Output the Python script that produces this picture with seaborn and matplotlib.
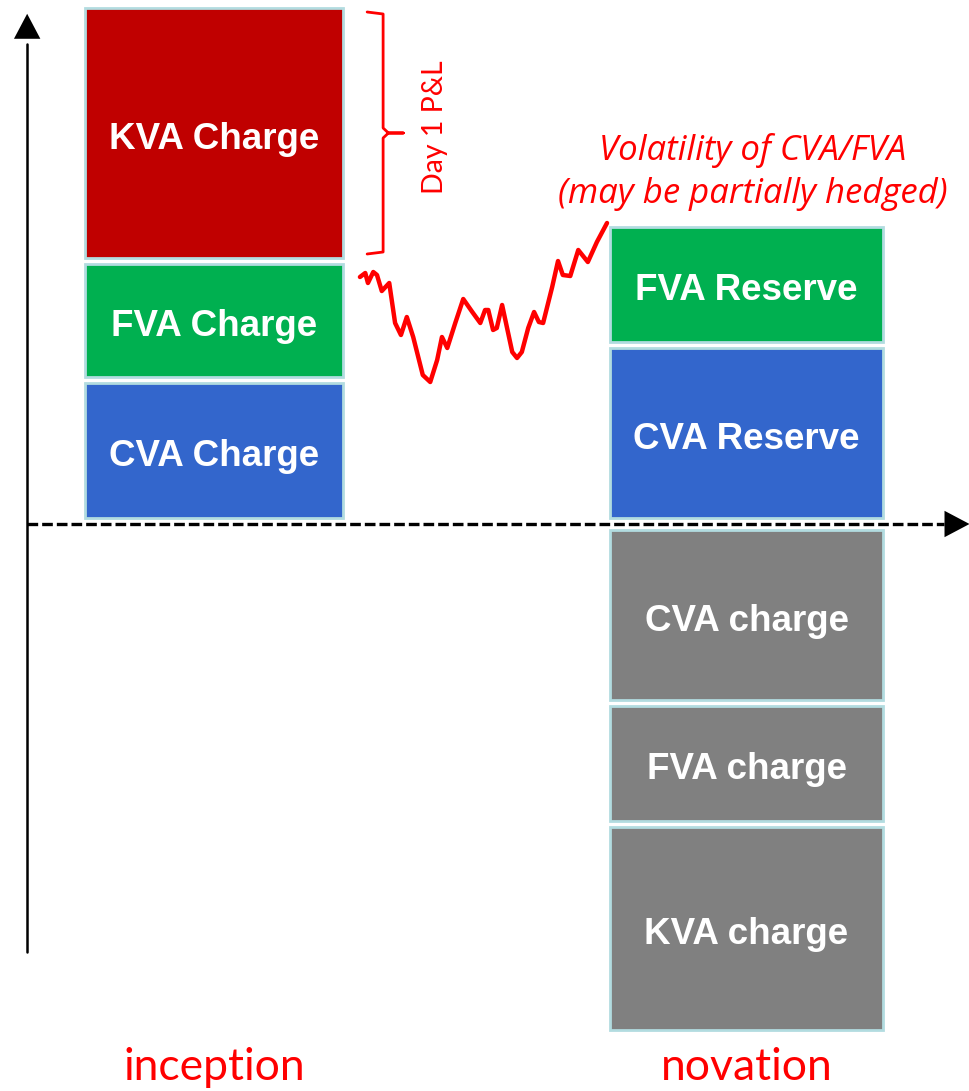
import numpy as np
import pandas as pd
import matplotlib
matplotlib.use("Agg")
import matplotlib.pyplot as plt
import seaborn as sns

# columns of the diagram
columns = ["inception", "novation"]

# inception: charges stacked upwards
inception_labels = ["CVA Charge", "FVA Charge", "KVA Charge"]
inception_values = [13.5, 11.3, 25.0]

# novation: reserves above zero, new charges below
reserve_labels = ["CVA Reserve", "FVA Reserve"]
reserve_values = [17.0, 11.5]
novation_labels = ["CVA charge", "FVA charge", "KVA charge"]
novation_values = [-17.0, -11.5, -20.3]

# CVA/FVA path between inception (0) and novation (1)
path_t = [0.274, 0.284, 0.289, 0.299, 0.306, 0.315, 0.329, 0.340, 0.351, 0.362,
          0.374, 0.392, 0.406, 0.419, 0.428, 0.438, 0.453, 0.468, 0.485, 0.500,
          0.509, 0.515, 0.524, 0.531, 0.541, 0.560, 0.569, 0.578, 0.590, 0.601,
          0.610, 0.618, 0.635, 0.646, 0.655, 0.669, 0.684, 0.702, 0.719, 0.738]
path_v = [24.7, 25.1, 24.1, 25.2, 24.9, 23.3, 24.1, 20.1, 18.9, 20.7,
          18.7, 14.9, 14.2, 16.4, 18.7, 17.6, 20.1, 22.5, 21.2, 20.1,
          21.4, 21.4, 19.4, 19.6, 21.9, 17.2, 16.6, 17.2, 19.6, 21.2,
          20.2, 20.1, 23.7, 26.3, 24.9, 24.8, 27.4, 26.2, 28.2, 30.1]

colors = {"CVA": "#3366CC", "FVA": "#00B050", "KVA": "#C00000"}
grey = "#808080"
edge = "#B2DCE0"
red = "#FF0000"
gap = 0.6
widths = {"inception": 0.485, "novation": 0.513}

sns.set_style("white")
plt.rcParams["font.family"] = ["Liberation Sans", "DejaVu Sans"]

fig = plt.figure(figsize=(9.70, 10.91), dpi=100)
ax = fig.add_axes([0, 0, 1, 1])


def stack(ax, col, labels, values, color_of):
    """Draw a stack of labelled blocks in one column, with gaps between them"""
    pos = columns.index(col)
    sign = 1 if values[0] > 0 else -1
    base = sign * gap
    extents = {}
    for lab, val in zip(labels, values):
        df = pd.DataFrame({"col": [col], "val": [val]})
        sns.barplot(data=df, x="col", y="val", order=columns, color=color_of(lab),
                    saturation=1, width=widths[col], bottom=base, edgecolor=edge,
                    linewidth=2, errorbar=None, ax=ax)
        ax.text(pos, base + val / 2 - 0.25, lab, color="white", fontsize=26.5,
                fontweight="bold", ha="center", va="center_baseline")
        extents[lab] = (base, base + val)
        base = base + val + sign * gap
    return extents


inc = stack(ax, "inception", inception_labels, inception_values,
            lambda l: colors[l.split()[0]])
stack(ax, "novation", reserve_labels, reserve_values,
      lambda l: colors[l.split()[0]])
stack(ax, "novation", novation_labels, novation_values, lambda l: grey)

# volatility path
sns.lineplot(x=path_t, y=path_v, sort=False, estimator=None, color=red,
             linewidth=3.2, ax=ax)

# Day 1 P&L brace over the KVA block
kb, kt = inc["KVA Charge"]
x0 = widths["inception"] / 2
xe, xs, xt = x0 + 0.045, x0 + 0.075, x0 + 0.113
mid = (kb + kt) / 2
ax.plot([xe, xs, xs, xs + 0.01, xt, xs + 0.01, xs, xs, xe],
        [kt - 0.4, kt - 0.6, mid + 0.5, mid, mid, mid, mid - 0.5, kb + 0.6, kb + 0.4],
        color=red, linewidth=2, solid_joinstyle="round")
ax.text(xt + 0.06, mid + 0.6, "Day 1 P&L", color=red, fontsize=20.5, rotation=90,
        ha="center", va="center", family=["Lato", "DejaVu Sans"])

ax.text(1.012, 37.3, "Volatility of CVA/FVA", color=red, fontsize=25,
        style="italic", ha="center", va="center", family=["Open Sans", "DejaVu Sans"])
ax.text(1.012, 33.0, "(may be partially hedged)", color=red, fontsize=25,
        style="italic", ha="center", va="center", family=["Open Sans", "DejaVu Sans"])

# column labels
for i, c in enumerate(columns):
    ax.text(i, -54.4, c, color=red, fontsize=32, ha="center", va="center",
            family=["Lato", "DejaVu Sans"])

# axes with arrows
ax.set_xlim(-0.402, 1.4197)
ax.set_ylim(-56.7, 52.4)
xa = -0.351
head = "-|>,head_width=0.95,head_length=1.8"
ax.plot([xa, xa], [-42.8, 48.0], color="black", linewidth=1.8)
ax.annotate("", xy=(xa, 51.3), xytext=(xa, 46.0), annotation_clip=False,
            arrowprops=dict(arrowstyle=head, color="black", lw=0))
ax.plot([xa, 1.37], [0, 0], color="black", linewidth=2.4, linestyle=(0, (3.2, 1.2)))
ax.annotate("", xy=(1.424, 0), xytext=(1.36, 0), annotation_clip=False,
            arrowprops=dict(arrowstyle=head, color="black", lw=0))
ax.axis("off")

fig.savefig("out.png", dpi=100)
